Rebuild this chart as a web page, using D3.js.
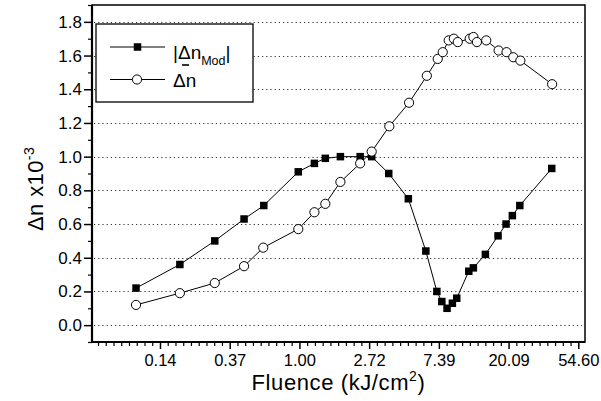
<!DOCTYPE html>
<html>
<head>
<meta charset="utf-8">
<script src="https://cdn.jsdelivr.net/npm/d3@7"></script>
<style>
  html, body { margin: 0; padding: 0; background: #fff; }
  svg { display: block; font-family: "Liberation Sans", Arial, sans-serif; }
</style>
</head>
<body>
<svg id="chart" width="601" height="401"></svg>
<script>
// ---- data ----
const modFluence = [0.096, 0.18, 0.297, 0.452, 0.60, 0.984, 1.24, 1.45, 1.80, 2.39, 2.82, 3.60, 4.77, 6.13, 7.18, 7.71, 8.31, 8.97, 9.55, 11.35, 12.12, 14.4, 17.27, 19.37, 21.2, 23.6, 37.3];
const modValues  = [0.22, 0.36, 0.50, 0.63, 0.71, 0.91, 0.96, 0.99, 1.00, 1.00, 1.00, 0.90, 0.75, 0.44, 0.20, 0.14, 0.10, 0.13, 0.16, 0.32, 0.34, 0.42, 0.53, 0.60, 0.65, 0.71, 0.93];
const avgFluence = [0.096, 0.18, 0.297, 0.452, 0.595, 0.984, 1.24, 1.45, 1.80, 2.39, 2.82, 3.63, 4.82, 6.22, 7.27, 7.81, 8.51, 9.16, 9.69, 11.50, 12.12, 12.75, 14.58, 17.41, 19.51, 21.48, 23.78, 37.5];
const avgValues  = [0.12, 0.19, 0.25, 0.35, 0.46, 0.57, 0.67, 0.72, 0.85, 0.96, 1.03, 1.18, 1.32, 1.48, 1.58, 1.62, 1.69, 1.70, 1.68, 1.70, 1.71, 1.68, 1.69, 1.63, 1.62, 1.59, 1.57, 1.43];
const xTickExponents = [-2, -1, 0, 1, 2, 3, 4];
const xTickLabels = ["0.14", "0.37", "1.00", "2.72", "7.39", "20.09", "54.60"];
const yTickValues = [0.0, 0.2, 0.4, 0.6, 0.8, 1.0, 1.2, 1.4, 1.6, 1.8];

// ---- layout ----
const L = 92, R = 585, T = 5, B = 342;
const svg = d3.select("#chart");

const x = d3.scaleLog().base(Math.E)
  .domain([Math.exp(-2.975), Math.exp(4.096)])
  .range([L, R]);
const y = d3.scaleLinear().domain([-0.1, 1.9]).range([B, T]);

// grid lines
svg.append("g").selectAll("line").data(yTickValues).join("line")
  .attr("x1", L + 2).attr("x2", R - 3)
  .attr("y1", d => Math.round(y(d)) + 0.5).attr("y2", d => Math.round(y(d)) + 0.5)
  .attr("stroke", "#333").attr("stroke-width", 1)
  .attr("stroke-dasharray", "1.2,3");

// minor ticks
const xMinor = [];
for (let n = -3; n <= 4; n++) {
  for (let k = 1; k < 9; k++) {
    const v = n + k / 9;
    if (v > -2.975 && v < 4.096) xMinor.push(Math.exp(v));
  }
}
const yMinor = d3.range(-0.1, 1.95, 0.2).map(v => +v.toFixed(1));

// x axis
const xAxis = d3.axisBottom(x)
  .tickValues(xTickExponents.map(e => Math.exp(e)))
  .tickFormat((d, i) => xTickLabels[i])
  .tickSize(7).tickSizeOuter(0).tickPadding(5);
const gx = svg.append("g").attr("transform", `translate(0,${B})`).call(xAxis);
gx.select(".domain").remove();
gx.selectAll(".tick line").attr("stroke", "#000").attr("stroke-width", 1.5);
gx.selectAll(".tick text").attr("font-size", 16.5).attr("fill", "#000")
  .attr("font-family", "Liberation Sans, Arial, sans-serif");
const gxm = d3.axisBottom(x).tickValues(xMinor).tickFormat("").tickSize(4).tickSizeOuter(0);
const gxMinor = svg.append("g").attr("transform", `translate(0,${B})`).call(gxm);
gxMinor.select(".domain").remove();
gxMinor.selectAll(".tick line").attr("stroke", "#000").attr("stroke-width", 1.2);

// y axis
const yAxis = d3.axisLeft(y).tickValues(yTickValues).tickFormat(d3.format(".1f"))
  .tickSize(8).tickSizeOuter(0).tickPadding(2);
const gy = svg.append("g").attr("transform", `translate(${L},0)`).call(yAxis);
gy.select(".domain").remove();
gy.selectAll(".tick line").attr("stroke", "#000").attr("stroke-width", 1.5);
gy.selectAll(".tick text").attr("font-size", 17).attr("fill", "#000")
  .attr("font-family", "Liberation Sans, Arial, sans-serif");
const gym = d3.axisLeft(y).tickValues(yMinor).tickFormat("").tickSize(4).tickSizeOuter(0);
const gyMinor = svg.append("g").attr("transform", `translate(${L},0)`).call(gym);
gyMinor.select(".domain").remove();
gyMinor.selectAll(".tick line").attr("stroke", "#000").attr("stroke-width", 1.2);

// frame
svg.append("rect").attr("x", L).attr("y", T).attr("width", R - L).attr("height", B - T)
  .attr("fill", "none").attr("stroke", "#000").attr("stroke-width", 1.5);
svg.append("line").attr("x1", L).attr("x2", L).attr("y1", T).attr("y2", B + 1)
  .attr("stroke", "#000").attr("stroke-width", 2.2);
svg.append("line").attr("x1", L - 1).attr("x2", R).attr("y1", B).attr("y2", B)
  .attr("stroke", "#000").attr("stroke-width", 2.2);

// series
const modData = modFluence.map((f, i) => [f, modValues[i]]);
const avgData = avgFluence.map((f, i) => [f, avgValues[i]]);
const line = d3.line().x(d => x(d[0])).y(d => y(d[1]));

svg.append("path").datum(modData).attr("d", line)
  .attr("fill", "none").attr("stroke", "#000").attr("stroke-width", 1);
svg.append("path").datum(avgData).attr("d", line)
  .attr("fill", "none").attr("stroke", "#000").attr("stroke-width", 1);

const sq = 7.5;
svg.append("g").selectAll("rect").data(modData).join("rect")
  .attr("x", d => x(d[0]) - sq / 2).attr("y", d => y(d[1]) - sq / 2)
  .attr("width", sq).attr("height", sq).attr("fill", "#000");
svg.append("g").selectAll("circle").data(avgData).join("circle")
  .attr("cx", d => x(d[0])).attr("cy", d => y(d[1])).attr("r", 4.6)
  .attr("fill", "#fff").attr("stroke", "#000").attr("stroke-width", 1);

// legend
const lg = svg.append("g");
lg.append("rect").attr("x", 96).attr("y", 24).attr("width", 157).attr("height", 78)
  .attr("fill", "#fff").attr("stroke", "#000").attr("stroke-width", 1.3);
lg.append("line").attr("x1", 110).attr("x2", 165).attr("y1", 47).attr("y2", 47)
  .attr("stroke", "#000").attr("stroke-width", 1);
lg.append("rect").attr("x", 137.5 - sq / 2).attr("y", 47 - sq / 2).attr("width", sq).attr("height", sq).attr("fill", "#000");
lg.append("line").attr("x1", 110).attr("x2", 165).attr("y1", 79.5).attr("y2", 79.5)
  .attr("stroke", "#000").attr("stroke-width", 1);
lg.append("circle").attr("cx", 137).attr("cy", 79.5).attr("r", 4.6)
  .attr("fill", "#fff").attr("stroke", "#000").attr("stroke-width", 1);
const t1 = lg.append("text").attr("x", 173).attr("y", 58.5).attr("font-size", 19).attr("fill", "#000");
t1.append("tspan").text("|Δn");
t1.append("tspan").attr("font-size", 12.5).attr("dy", 6).text("Mod");
t1.append("tspan").attr("dy", -6).text("|");
lg.append("text").attr("x", 173).attr("y", 87).attr("font-size", 19).attr("fill", "#000").text("Δn");
lg.append("line").attr("x1", 182).attr("x2", 189).attr("y1", 65).attr("y2", 65)
  .attr("stroke", "#000").attr("stroke-width", 1.6);

// axis titles
const xt = svg.append("text").attr("x", (L + R) / 2).attr("y", 390)
  .attr("text-anchor", "middle").attr("font-size", 22).attr("letter-spacing", 0.6).attr("fill", "#000");
xt.append("tspan").text("Fluence (kJ/cm");
xt.append("tspan").attr("font-size", 14).attr("dy", -9).text("2");
xt.append("tspan").attr("dy", 9).text(")");

const yt = svg.append("text").attr("transform", "translate(43,189) rotate(-90)")
  .attr("text-anchor", "middle").attr("font-size", 22).attr("letter-spacing", 0.4).attr("fill", "#000");
yt.append("tspan").text("Δn x10");
yt.append("tspan").attr("font-size", 14).attr("dy", -9).text("-3");
</script>
</body>
</html>
